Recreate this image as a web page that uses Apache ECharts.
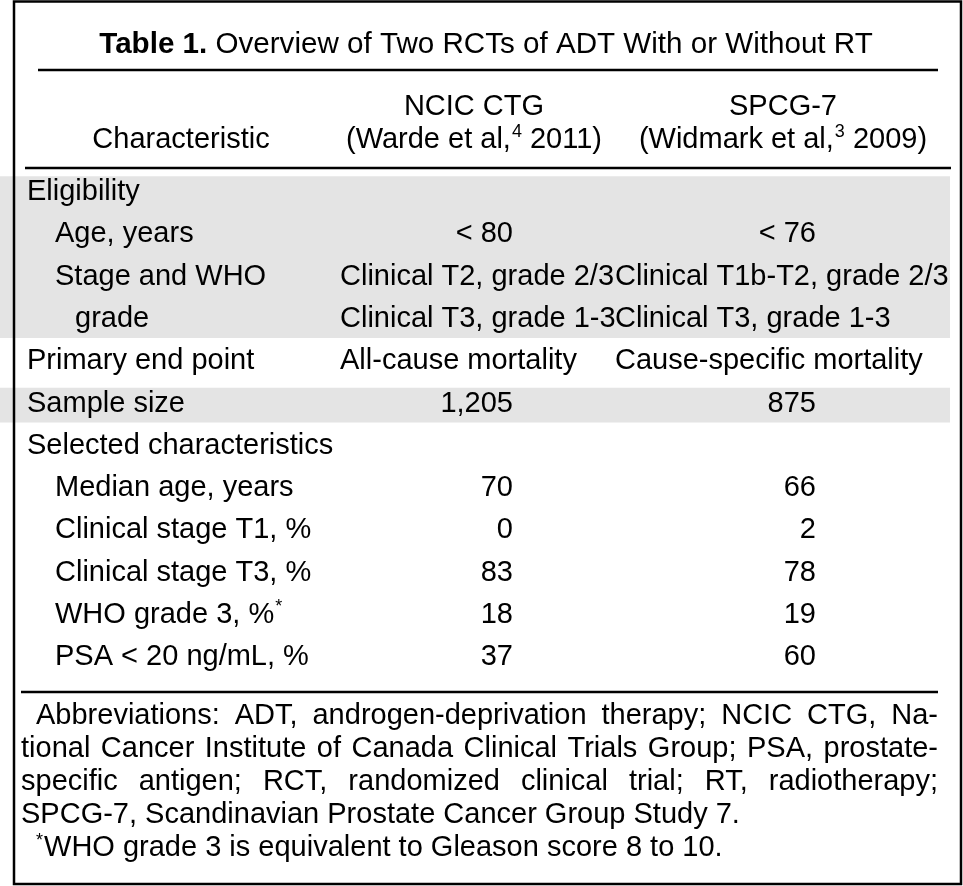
<!DOCTYPE html>
<html><head><meta charset="utf-8">
<script src="https://cdn.jsdelivr.net/npm/echarts@6/dist/echarts.min.js"></script>
<style>html,body{margin:0;padding:0;background:#fff}#c{width:963px;height:886px}</style>
</head><body><div id="c"></div>
<script>
// ---------- data ----------
const titleBold = 'Table 1.';
const titleText = ' Overview of Two RCTs of ADT With or Without RT';
const headerLabel = 'Characteristic';
const studyNames = ['NCIC CTG', 'SPCG-7'];
const studyRefs = [['(Warde et al,', '4', ' 2011)'], ['(Widmark et al,', '3', ' 2009)']];
const rowLabels = ['Eligibility', 'Age, years', 'Stage and WHO', 'grade', 'Primary end point', 'Sample size',
  'Selected characteristics', 'Median age, years', 'Clinical stage T1, %', 'Clinical stage T3, %', 'WHO grade 3, %', 'PSA < 20 ng/mL, %'];
const rowLevels = [0, 1, 1, 2, 0, 0, 0, 1, 1, 1, 1, 1];
const rowMarks = ['', '', '', '', '', '', '', '', '', '', '*', ''];
const ncicValues = ['', '< 80', 'Clinical T2, grade 2/3', 'Clinical T3, grade 1-3', 'All-cause mortality', '1,205', '', '70', '0', '83', '18', '37'];
const spcgValues = ['', '< 76', 'Clinical T1b-T2, grade 2/3', 'Clinical T3, grade 1-3', 'Cause-specific mortality', '875', '', '66', '2', '78', '19', '60'];
const shadedGroups = [[0, 3], [5, 5]];
const footLines = [
  'Abbreviations: ADT, androgen-deprivation therapy; NCIC CTG, Na-',
  'tional Cancer Institute of Canada Clinical Trials Group; PSA, prostate-',
  'specific antigen; RCT, randomized clinical trial; RT, radiotherapy;',
  'SPCG-7, Scandinavian Prostate Cancer Group Study 7.',
  'WHO grade 3 is equivalent to Gleason score 8 to 10.'
];
const footMarks = ['', '', '', '', '*'];
const footJustify = [true, true, true, false, false];
const footIndent = [true, false, false, false, true];

// ---------- layout ----------
const FONT = '"Liberation Sans", Arimo, Arial, sans-serif';
const FS = 29;
const INK = '#000';
const W = 963;
const firstLineY = 192, lineStep = 42.3;
const levelX = [27, 55, 75];
const colTextX = [340, 615];
const colNumRight = [513, 816];
const bandLeft = 0, bandRight = 950;
const bandTopOff = 0.37, bandBotOff = 0.45;

const chart = echarts.init(document.getElementById('c'), null, {renderer: 'canvas'});

const ctx = document.createElement('canvas').getContext('2d');
function measure(t, fs) { ctx.font = fs + 'px ' + FONT; return ctx.measureText(t).width; }

const graphics = [];
// border
graphics.push({type: 'rect', shape: {x: 14, y: 1.5, width: 947, height: 882.5},
  style: {fill: 'none', stroke: INK, lineWidth: 2.5}, z: 10});
// title
graphics.push({type: 'text', x: 486, y: 45, style: {
  text: '{b|' + titleBold + '}{r|' + titleText + '}', align: 'center', verticalAlign: 'middle',
  rich: {b: {fontFamily: FONT, fontSize: 29.6, fontWeight: 'bold', fill: INK},
         r: {fontFamily: FONT, fontSize: 29.6, fill: INK}}}});
// rules
function hline(x1, x2, y) {
  graphics.push({type: 'line', shape: {x1, y1: y, x2, y2: y}, style: {stroke: INK, lineWidth: 2.5}});
}
hline(38, 938, 70);
hline(25, 951, 168);
hline(21, 938, 692);
// header
graphics.push({type: 'text', x: 181, y: 140, style: {text: headerLabel, fontFamily: FONT, fontSize: FS, fill: INK, align: 'center', verticalAlign: 'middle'}});
const headCenters = [474, 783];
studyNames.forEach((n, k) => {
  graphics.push({type: 'text', x: headCenters[k], y: 107, style: {text: n, fontFamily: FONT, fontSize: FS, fill: INK, align: 'center', verticalAlign: 'middle'}});
  const r = studyRefs[k];
  graphics.push({type: 'text', x: headCenters[k], y: 140, style: {
    text: '{a|' + r[0] + '}{s|' + r[1] + '}{a|' + r[2] + '}', align: 'center', verticalAlign: 'middle',
    rich: {a: {fontFamily: FONT, fontSize: FS, fill: INK, lineHeight: 34},
           s: {fontFamily: FONT, fontSize: 18, fill: INK, lineHeight: 34, verticalAlign: 'top', padding: [0, 0, 14, 1]}}}});
});
// footnote
const footTop = 716, footStep = 33, footLeft = 21, footRight = 938, footIndentX = 36;
footLines.forEach((line, i) => {
  const y = footTop + i * footStep;
  let x0 = footIndent[i] ? footIndentX : footLeft;
  if (footMarks[i]) {
    graphics.push({type: 'text', x: x0, y: y - 7, style: {text: footMarks[i], fontFamily: FONT, fontSize: 18, fill: INK, align: 'left', verticalAlign: 'middle'}});
    x0 += measure(footMarks[i], 18) + 1;
  }
  if (footJustify[i]) {
    const words = line.split(' ');
    const widths = words.map(w => measure(w, FS));
    const total = widths.reduce((a, b) => a + b, 0);
    const gap = (footRight - x0 - total) / (words.length - 1);
    let x = x0;
    words.forEach((w, j) => {
      graphics.push({type: 'text', x, y, style: {text: w, fontFamily: FONT, fontSize: FS, fill: INK, align: 'left', verticalAlign: 'middle'}});
      x += widths[j] + gap;
    });
  } else {
    graphics.push({type: 'text', x: x0, y, style: {text: line, fontFamily: FONT, fontSize: FS, fill: INK, align: 'left', verticalAlign: 'middle'}});
  }
});

const nLines = rowLabels.length;
function txt(x, y, text, align) {
  return {type: 'text', x, y, style: {text, fontFamily: FONT, fontSize: FS, fill: INK, align, verticalAlign: 'middle'}};
}

chart.setOption({
  animation: false,
  backgroundColor: '#fff',
  grid: {left: 0, width: W, top: firstLineY, height: lineStep * (nLines - 1), containLabel: false},
  xAxis: {type: 'value', min: 0, max: W, show: false},
  yAxis: {type: 'value', min: 0, max: nLines - 1, inverse: true, show: false},
  graphic: graphics,
  series: [
    {
      type: 'custom', silent: true, z: 1,
      data: shadedGroups.map(g => [g[0], g[1]]),
      encode: {y: [0, 1]},
      renderItem: (params, api) => {
        const y1 = api.coord([bandLeft, api.value(0) - bandTopOff]);
        const y2 = api.coord([bandRight, api.value(1) + bandBotOff]);
        return {type: 'rect', shape: {x: y1[0], y: y1[1], width: y2[0] - y1[0], height: y2[1] - y1[1]},
          style: {fill: '#e4e4e4'}};
      }
    },
    {
      type: 'custom', silent: true, z: 2,
      data: rowLabels.map((l, i) => [0, i]),
      encode: {x: 0, y: 1},
      renderItem: (params, api) => {
        const i = api.value(1);
        const p = api.coord([levelX[rowLevels[i]], i]);
        const children = [];
        if (rowMarks[i]) {
          children.push({type: 'text', x: p[0], y: p[1], style: {
            text: '{a|' + rowLabels[i] + '}{s|' + rowMarks[i] + '}', align: 'left', verticalAlign: 'middle',
            rich: {a: {fontFamily: FONT, fontSize: FS, fill: INK, lineHeight: 34},
                   s: {fontFamily: FONT, fontSize: 18, fill: INK, lineHeight: 34, verticalAlign: 'top', padding: [0, 0, 14, 1]}}}});
        } else {
          children.push(txt(p[0], p[1], rowLabels[i], 'left'));
        }
        [ncicValues, spcgValues].forEach((vals, k) => {
          const v = vals[i];
          if (!v) return;
          if (/^[<\d]/.test(v)) {
            const q = api.coord([colNumRight[k], i]);
            children.push(txt(q[0], q[1], v, 'right'));
          } else {
            const q = api.coord([colTextX[k], i]);
            children.push(txt(q[0], q[1], v, 'left'));
          }
        });
        return {type: 'group', children};
      }
    }
  ]
});
</script></body></html>
